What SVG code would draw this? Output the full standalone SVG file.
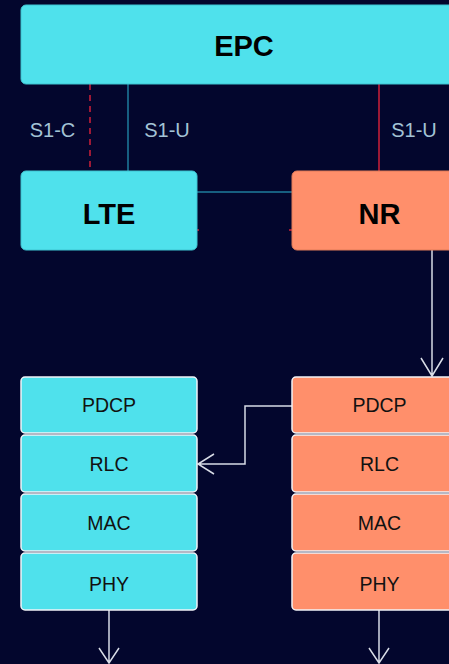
<svg xmlns="http://www.w3.org/2000/svg" width="449" height="664" viewBox="0 0 449 664">
<defs>
<style>
.bg{fill:#03062d}
.cy{fill:#4fe1ec;stroke:#3fc4d2;stroke-width:1}
.sa{fill:#ff8f6b;stroke:#e07a58;stroke-width:1}
.cyl{fill:#4fe1ec;stroke:#f2f4f8;stroke-width:1.5}
.sal{fill:#ff8f6b;stroke:#f2f4f8;stroke-width:1.5}
.big{font-family:"Liberation Sans",Arial,sans-serif;font-weight:bold;font-size:29px;fill:#000;text-anchor:middle}
.lay{font-family:"Liberation Sans",Arial,sans-serif;font-size:19.5px;fill:#111;text-anchor:middle}
.lbl{font-family:"Liberation Sans",Arial,sans-serif;font-size:20px;fill:#a3c3d6;text-anchor:middle}
.teal{stroke:#1f7c9c;stroke-width:1.5;fill:none}
.red{stroke:#d0203a;stroke-width:1.5;fill:none}
.wh{stroke:#d8dce6;stroke-width:1.5;fill:none}
</style>
</defs>
<rect class="bg" x="0" y="0" width="449" height="664"/>
<g id="connectors">
<line class="red" x1="90" y1="84" x2="90" y2="171" stroke-dasharray="6,5"/>
<line class="teal" x1="128" y1="84" x2="128" y2="171"/>
<line class="red" x1="379" y1="84" x2="379" y2="171"/>
<line class="teal" x1="197" y1="192" x2="292" y2="192"/>
<line class="red" x1="196" y1="230" x2="199" y2="230"/>
<line class="red" x1="289" y1="230" x2="292" y2="230"/>
<path class="wh" d="M432 250 V376 M421 358 L432 376 L443 358"/>
<path class="wh" d="M292 406 H245 V464 H198 M214 454 L198 464 L214 474"/>
<path class="wh" d="M109 610 V663 M99 648 L109 663 L119 648"/>
<path class="wh" d="M379 610 V663 M369 648 L379 663 L389 648"/>
</g>
<g id="labels">
<text class="lbl" x="52.5" y="137">S1-C</text>
<text class="lbl" x="167" y="137">S1-U</text>
<text class="lbl" x="414" y="137">S1-U</text>
</g>
<g id="epc">
<rect class="cy" x="21" y="5" width="460" height="79" rx="5"/>
<text class="big" x="244" y="56">EPC</text>
</g>
<g id="lte">
<rect class="cy" x="21" y="171" width="176" height="79" rx="5"/>
<text class="big" x="109" y="224">LTE</text>
</g>
<g id="nr">
<rect class="sa" x="292" y="171" width="175" height="79" rx="5"/>
<text class="big" x="379.5" y="224">NR</text>
</g>
<g id="lte-pdcp"><rect class="cyl" x="21" y="377" width="176" height="56" rx="4"/><text class="lay" x="109" y="412">PDCP</text></g>
<g id="lte-rlc"><rect class="cyl" x="21" y="435" width="176" height="57" rx="4"/><text class="lay" x="109" y="471">RLC</text></g>
<g id="lte-mac"><rect class="cyl" x="21" y="494" width="176" height="57" rx="4"/><text class="lay" x="109" y="530">MAC</text></g>
<g id="lte-phy"><rect class="cyl" x="21" y="553" width="176" height="57" rx="4"/><text class="lay" x="109" y="591">PHY</text></g>
<g id="nr-pdcp"><rect class="sal" x="292" y="377" width="175" height="56" rx="4"/><text class="lay" x="379.5" y="412">PDCP</text></g>
<g id="nr-rlc"><rect class="sal" x="292" y="435" width="175" height="57" rx="4"/><text class="lay" x="379.5" y="471">RLC</text></g>
<g id="nr-mac"><rect class="sal" x="292" y="494" width="175" height="57" rx="4"/><text class="lay" x="379.5" y="530">MAC</text></g>
<g id="nr-phy"><rect class="sal" x="292" y="553" width="175" height="57" rx="4"/><text class="lay" x="379.5" y="591">PHY</text></g>
</svg>
